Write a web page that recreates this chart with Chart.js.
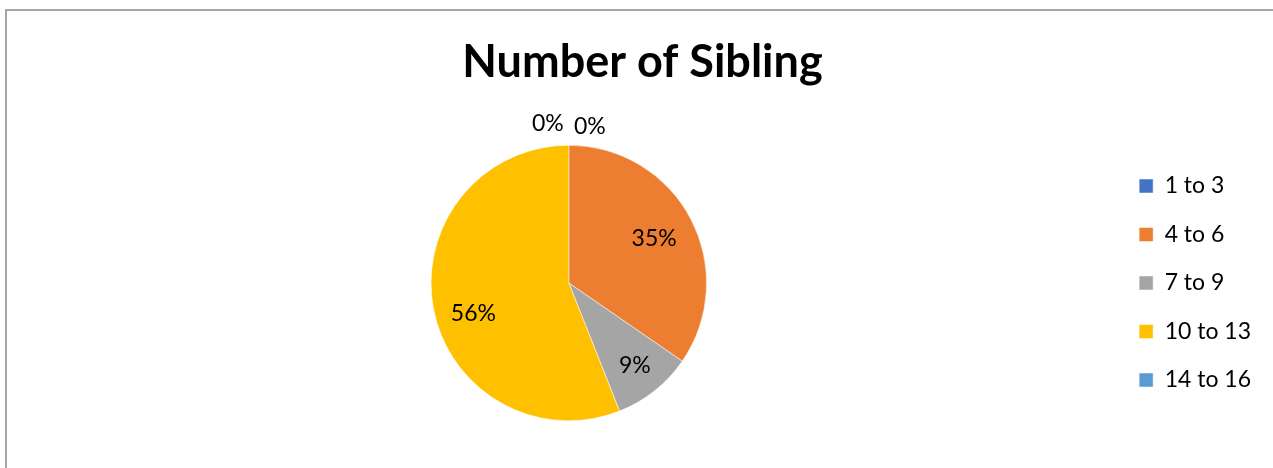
<!DOCTYPE html>
<html>
<head>
<meta charset="utf-8">
<script src="https://cdn.jsdelivr.net/npm/chart.js@4.4.1/dist/chart.umd.min.js"></script>
<style>
  html, body { margin: 0; padding: 0; background: #ffffff; overflow: hidden; }
  #wrap { position: relative; width: 1273px; height: 468px; }
  #frame { position: absolute; left: 5px; top: 9px; width: 1400px; height: 600px;
           border-left: 2px solid #a6a6a6; border-top: 2px solid #a6a6a6; box-sizing: border-box; }
  canvas { position: absolute; left: 0; top: 0; }
</style>
</head>
<body>
<div id="wrap">
  <div id="frame"></div>
  <canvas id="c" width="1273" height="468"></canvas>
</div>
<script>
const chartTitle = "Number of Sibling";
const categories = ["1 to 3", "4 to 6", "7 to 9", "10 to 13", "14 to 16"];
const values = [0, 34.6, 9.4, 56.0, 0];
const colors = ["#4472C4", "#ED7D31", "#A5A5A5", "#FFC000", "#5B9BD5"];

const FONT = "Lato, 'Open Sans', sans-serif";

// label placement style: radius fraction and pixel nudge per slice
const labelRadius = [1, 0.70, 0.77, 0.72, 1];
const labelNudge = [[21, -19], [0, 0], [0, 0], [2, 12], [-21, -22]];

const pctLabels = {
  id: 'pctLabels',
  afterDatasetsDraw(chart) {
    const ctx = chart.ctx;
    const meta = chart.getDatasetMeta(0);
    const total = values.reduce((a, b) => a + b, 0);
    ctx.save();
    ctx.font = "23px " + FONT;
    ctx.fillStyle = "#000000";
    ctx.textAlign = "center";
    ctx.textBaseline = "middle";
    meta.data.forEach((arc, i) => {
      const p = arc.getProps(['x', 'y', 'startAngle', 'endAngle', 'outerRadius'], true);
      const txt = Math.round(values[i] / total * 100) + "%";
      const mid = (p.startAngle + p.endAngle) / 2;
      const r = p.outerRadius * labelRadius[i];
      const x = p.x + Math.cos(mid) * r + labelNudge[i][0];
      const y = p.y + Math.sin(mid) * r + labelNudge[i][1];
      ctx.fillText(txt, x, y);
    });
    ctx.restore();
  }
};

new Chart(document.getElementById('c'), {
  type: 'pie',
  data: {
    labels: categories,
    datasets: [{
      data: values,
      backgroundColor: colors,
      borderColor: "#ffffff",
      borderWidth: 0.5
    }]
  },
  options: {
    responsive: false,
    animation: false,
    layout: { padding: { top: 0, bottom: 47, left: 24, right: 12 } },
    plugins: {
      tooltip: { enabled: false },
      title: {
        display: true,
        text: chartTitle,
        color: "#000000",
        font: { family: FONT, size: 45, weight: 'bold', lineHeight: 1.2 },
        padding: { top: 35, bottom: 56 }
      },
      legend: {
        position: 'right',
        align: 'center',
        fullSize: false,
        labels: {
          boxWidth: 14,
          boxHeight: 14,
          padding: 25.5,
          color: "#000000",
          font: { family: FONT, size: 23 }
        }
      }
    }
  },
  plugins: [pctLabels]
});
</script>
</body>
</html>
